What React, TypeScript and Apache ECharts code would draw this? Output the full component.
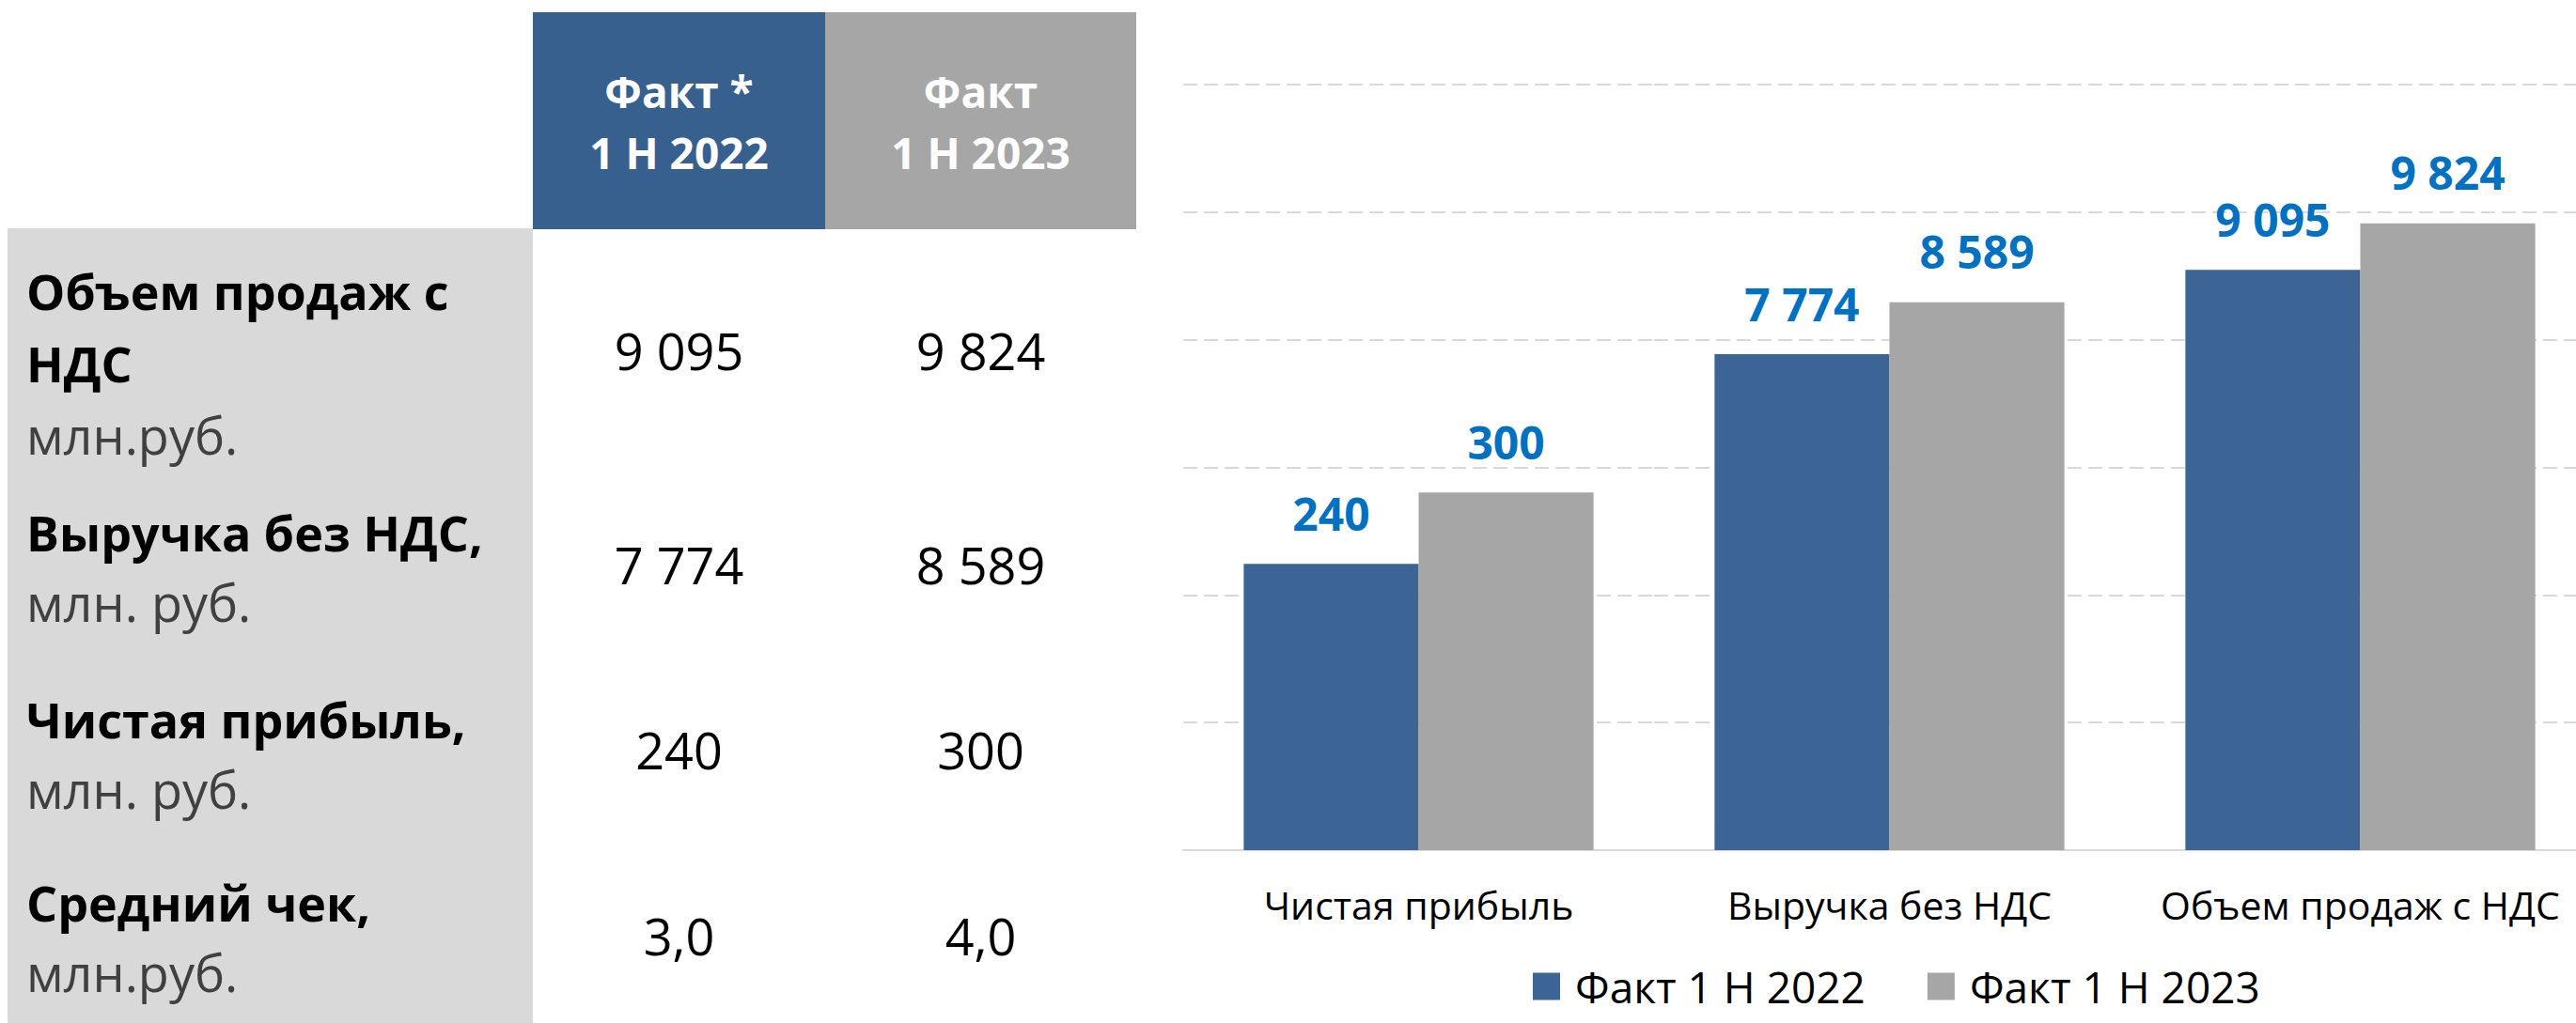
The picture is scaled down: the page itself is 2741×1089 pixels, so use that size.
import React, { useEffect, useRef } from "react";
import * as echarts from "echarts";

// ---------- data ----------
const headerLines2022 = ["Факт *", "1 Н 2022"];
const headerLines2023 = ["Факт", "1 Н 2023"];
const tableTitles = [["Объем продаж с", "НДС"], ["Выручка без НДС,"], ["Чистая прибыль,"], ["Средний чек,"]];
const tableUnits = ["млн.руб.", "млн. руб.", "млн. руб.", "млн.руб."];
const tableFact2022 = [9095, 7774, 240, 3.0];
const tableFact2023 = [9824, 8589, 300, 4.0];
const tableDecimals = [0, 0, 0, 1];

const seriesNames = ["Факт 1 Н 2022", "Факт 1 Н 2023"];
const chartCategories = ["Чистая прибыль", "Выручка без НДС", "Объем продаж с НДС"];
const chartFact2022 = [240, 7774, 9095];
const chartFact2023 = [300, 8589, 9824];

// ---------- styles / layout ----------
const W = 2741;
const H = 1089;
const CANVAS_W = 2790; // plot area runs past the right edge of the picture
const FONT = "'Open Sans', 'Noto Sans', sans-serif";
const BLUE_HEADER = "#37608F";
const BLUE_BAR = "#3C6494";
const GRAY = "#A6A6A6";
const LIGHT = "#D9D9D9";
const LABEL_BLUE = "#0070C0";

const colCenters = [722.5, 1043.5];
const headerLineY = [97, 162];
const rowLineY = [[309, 386, 463], [566, 641], [765, 840], [960, 1035]];
const valueY = [373, 601, 798, 996];

function fmt(v: number, dec = 0): string {
  const s = v.toFixed(dec);
  const [int, frac] = s.split(".");
  const withSpaces = int.replace(/\B(?=(\d{3})+(?!\d))/g, " ");
  return frac ? withSpaces + "," + frac : withSpaces;
}

export default function App() {
  const ref = useRef<HTMLDivElement>(null);
  useEffect(() => {
    document.body.style.margin = "0";
    document.body.style.overflow = "hidden";
    if (!ref.current) return;
    const chart = echarts.init(ref.current, undefined, { renderer: "svg" });

    const graphics: any[] = [
      { type: "rect", shape: { x: 567, y: 13, width: 311, height: 231 }, style: { fill: BLUE_HEADER }, z: 0 },
      { type: "rect", shape: { x: 878, y: 13, width: 331, height: 231 }, style: { fill: GRAY }, z: 0 },
      { type: "rect", shape: { x: 8, y: 243, width: 559, height: H - 243 }, style: { fill: LIGHT }, z: 0 },
    ];
    [headerLines2022, headerLines2023].forEach((lines, ci) => {
      lines.forEach((t, li) => {
        graphics.push({
          type: "text",
          z: 1,
          style: {
            text: t, x: colCenters[ci], y: headerLineY[li], fill: "#FFFFFF",
            font: `bold 46px ${FONT}`, textAlign: "center", textVerticalAlign: "middle",
          },
        });
      });
    });
    tableTitles.forEach((lines, ri) => {
      lines.forEach((t, li) => {
        graphics.push({
          type: "text", z: 1,
          style: {
            text: t, x: 28, y: rowLineY[ri][li], fill: "#000000",
            font: `bold 52px ${FONT}`, textAlign: "left", textVerticalAlign: "middle",
          },
        });
      });
      graphics.push({
        type: "text", z: 1,
        style: {
          text: tableUnits[ri], x: 28, y: rowLineY[ri][lines.length], fill: "#404040",
          font: `54px ${FONT}`, textAlign: "left", textVerticalAlign: "middle",
        },
      });
      [tableFact2022, tableFact2023].forEach((arr, ci) => {
        graphics.push({
          type: "text", z: 1,
          style: {
            text: fmt(arr[ri], tableDecimals[ri]), x: colCenters[ci], y: valueY[ri], fill: "#000000",
            font: `54px ${FONT}`, textAlign: "center", textVerticalAlign: "middle",
          },
        });
      });
    });

    const gridTop = 90;
    const gridHeight = 815;
    const catW = 501;
    const left0 = 1259;

    const catAxis = (gi: number, data: string[]) => ({
      type: "category", gridIndex: gi, data,
      axisTick: { show: false },
      axisLine: { show: true, lineStyle: { color: LIGHT, width: 2 } },
      axisLabel: { color: "#000000", fontSize: 41, fontFamily: FONT, margin: 37, interval: 0 },
    });
    const valAxis = (gi: number, max: number, interval: number) => ({
      type: "value", gridIndex: gi, min: 0, max, interval,
      axisLabel: { show: false }, axisLine: { show: false }, axisTick: { show: false },
      splitLine: { show: true, lineStyle: { color: LIGHT, width: 2, type: [15, 7] } },
    });
    const label = {
      show: true, position: "top", distance: 30, color: LABEL_BLUE, fontWeight: "bold",
      fontSize: 48, fontFamily: FONT, formatter: (p: any) => fmt(p.value),
    };
    const bar = (name: string, gi: number, data: number[], color: string) => ({
      type: "bar", name, xAxisIndex: gi, yAxisIndex: gi, data,
      barGap: "0%", barCategoryGap: "25.7%",
      itemStyle: { color }, label,
    });

    chart.setOption({
      animation: false,
      graphic: graphics,
      grid: [
        { left: left0, top: gridTop, width: catW, height: gridHeight },
        { left: left0 + catW, top: gridTop, width: catW * 2, height: gridHeight },
      ],
      xAxis: [catAxis(0, chartCategories.slice(0, 1)), catAxis(1, chartCategories.slice(1))],
      yAxis: [valAxis(0, 642, 107), valAxis(1, 12000, 2000)],
      legend: {
        data: seriesNames, left: 1626, top: 1022, itemWidth: 29, itemHeight: 29, itemGap: 66,
        icon: "rect",
        textStyle: { color: "#000000", fontSize: 46, fontFamily: FONT, padding: [0, 0, 0, 11] },
      },
      series: [
        bar(seriesNames[0], 0, chartFact2022.slice(0, 1), BLUE_BAR),
        bar(seriesNames[1], 0, chartFact2023.slice(0, 1), GRAY),
        bar(seriesNames[0], 1, chartFact2022.slice(1), BLUE_BAR),
        bar(seriesNames[1], 1, chartFact2023.slice(1), GRAY),
      ],
    });
    return () => chart.dispose();
  }, []);
  return (
    <div style={{ width: W, height: H, overflow: "hidden" }}>
      <div ref={ref} style={{ width: CANVAS_W, height: H }} />
    </div>
  );
}
